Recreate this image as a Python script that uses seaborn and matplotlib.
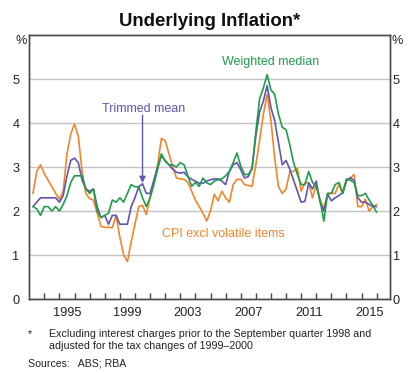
import numpy as np
import pandas as pd
import matplotlib
matplotlib.use("Agg")
import matplotlib.pyplot as plt
import seaborn as sns

# quarterly, year-ended %, Mar 1993 .. Dec 2015
quarters = pd.period_range("1993Q1", "2015Q4", freq="Q")

weighted_median = [
    2.1, 2.05, 1.9, 2.1, 2.1, 2.0, 2.1, 2.0, 2.15, 2.35,
    2.65, 2.8, 2.8, 2.8, 2.5, 2.4, 2.5, 2.0, 1.85, 1.9,
    1.95, 2.25, 2.2, 2.3, 2.2, 2.4, 2.6, 2.55, 2.55, 2.3,
    2.1, 2.3, 2.6, 2.95, 3.3, 3.13, 3.05, 3.05, 3.0, 3.1,
    3.05, 2.8, 2.56, 2.65, 2.56, 2.75, 2.64, 2.6, 2.68, 2.71,
    2.73, 2.8, 2.9, 3.1, 3.32, 3.02, 2.83, 2.83, 2.95, 3.8,
    4.55, 4.8, 5.1, 4.75, 4.65, 4.2, 3.9, 3.85, 3.5, 3.1,
    2.83, 2.6, 2.6, 2.9, 2.65, 2.55, 2.25, 1.77, 2.4, 2.4,
    2.6, 2.65, 2.4, 2.73, 2.7, 2.65, 2.35, 2.35, 2.4, 2.25,
    2.12, 1.97,
]

trimmed_mean = [
    2.1, 2.2, 2.3, 2.3, 2.3, 2.3, 2.3, 2.2, 2.35, 2.8,
    3.15, 3.2, 3.1, 2.7, 2.5, 2.45, 2.5, 2.1, 1.85, 1.9,
    1.7, 1.9, 1.9, 1.7, 1.7, 1.7, 2.1, 2.3, 2.55, 2.62,
    2.4, 2.4, 2.7, 3.0, 3.25, 3.15, 3.05, 2.95, 2.88, 2.86,
    2.88, 2.78, 2.72, 2.68, 2.63, 2.63, 2.68, 2.71, 2.73, 2.73,
    2.68, 2.6, 2.9, 3.05, 3.1, 2.94, 2.75, 2.78, 2.98, 3.7,
    4.25, 4.5, 4.85, 4.35, 4.05, 3.55, 3.05, 3.15, 2.95, 2.7,
    2.45, 2.2, 2.22, 2.64, 2.5, 2.68, 2.2, 2.0, 2.38, 2.23,
    2.3, 2.35, 2.42, 2.7, 2.75, 2.7, 2.3, 2.2, 2.2, 2.15,
    2.1, 2.1,
]

cpi_excl_volatile = [
    2.4, 2.9, 3.05, 2.85, 2.7, 2.55, 2.4, 2.27, 2.45, 3.3,
    3.75, 3.98, 3.7, 2.9, 2.4, 2.28, 2.25, 1.95, 1.65, 1.63,
    1.63, 1.62, 1.9, 1.4, 1.0, 0.85, 1.3, 1.7, 2.1, 2.13,
    1.92, 2.3, 2.65, 3.05, 3.65, 3.6, 3.3, 3.0, 2.75, 2.73,
    2.72, 2.65, 2.45, 2.25, 2.1, 1.95, 1.77, 2.0, 2.38, 2.23,
    2.45, 2.3, 2.2, 2.6, 2.72, 2.72, 2.6, 2.58, 2.56, 3.05,
    3.6, 4.2, 4.65, 4.05, 3.2, 2.55, 2.4, 2.5, 2.9, 2.9,
    2.97, 2.45, 2.64, 2.64, 2.3, 2.6, 2.25, 2.05, 2.4, 2.4,
    2.4, 2.6, 2.4, 2.68, 2.75, 2.83, 2.1, 2.1, 2.27, 2.0,
    2.1, 2.15,
]

year_labels = ["1995", "1999", "2003", "2007", "2011", "2015"]
y_ticks = [0, 1, 2, 3, 4, 5]

GREEN = "#1f9e4a"
PURPLE = "#6254b4"
ORANGE = "#f5842a"
TEXT = "#222222"

# decimal year at quarter end
t = quarters.year + quarters.quarter / 4.0
df = pd.DataFrame({
    "t": np.tile(t, 3),
    "value": weighted_median + trimmed_mean + cpi_excl_volatile,
    "series": ["Weighted median"] * len(t) + ["Trimmed mean"] * len(t)
              + ["CPI excl volatile items"] * len(t),
})

sns.set_style("white")
plt.rcParams["font.family"] = ["Liberation Sans", "DejaVu Sans"]

fig = plt.figure(figsize=(4.19, 3.73), dpi=100)
ax = fig.add_axes([29.2 / 419, 1 - 299 / 373, (390 - 29.2) / 419, (299 - 35) / 373])

sns.lineplot(data=df, x="t", y="value", hue="series",
             hue_order=["CPI excl volatile items", "Trimmed mean", "Weighted median"],
             palette=[ORANGE, PURPLE, GREEN], linewidth=1.2, legend=False, ax=ax)

ax.set_xlim(1993, 2016.88)
ax.set_ylim(0, 6)
ax.set_xlabel("")
ax.set_ylabel("")

# year boundary ticks, labels centred in the year
ax.set_xticks(np.arange(1994, 2017))
ax.set_xticklabels([])
ax.set_xticks([int(y) + 0.5 for y in year_labels], minor=True)
ax.set_xticklabels(year_labels, minor=True)
ax.tick_params(axis="x", which="major", direction="in", length=4, width=1,
               color="#444444", bottom=True, top=False)
ax.tick_params(axis="x", which="minor", length=0, pad=6, labelsize=9.2,
               labelcolor=TEXT)

ax.set_yticks(y_ticks)
ax.tick_params(axis="y", length=0, labelsize=9.2, labelcolor=TEXT, pad=7)

# right hand axis labels sit closer to the frame
ax2 = ax.twinx()
ax2.set_ylim(0, 6)
ax2.set_yticks(y_ticks)
ax2.tick_params(axis="y", length=0, labelsize=9.2, labelcolor=TEXT, pad=2)
ax2.grid(False)

ax.grid(axis="y", color="#c4c4c4", linewidth=1)
ax.grid(axis="x", visible=False)
for a in (ax, ax2):
    for s in a.spines.values():
        s.set_color("#4a4a4a")
        s.set_linewidth(1)

# % signs at top
fig.text(21 / 419, 1 - 41 / 373, "%", ha="center", va="center", fontsize=9.2, color=TEXT)
fig.text(397 / 419, 1 - 41 / 373, "%", ha="center", va="center", fontsize=9.2, color=TEXT)

# series labels
ax.text(2009.0, 5.39, "Weighted median", color=GREEN, fontsize=9, ha="center", va="center")
ax.text(2000.6, 4.32, "Trimmed mean", color=PURPLE, fontsize=9, ha="center", va="center")
ax.text(2005.85, 1.48, "CPI excl volatile items", color=ORANGE, fontsize=9, ha="center", va="center")
ax.annotate("", xy=(2000.5, 2.64), xytext=(2000.5, 4.18),
            arrowprops=dict(arrowstyle="-|>", color=PURPLE, lw=1, mutation_scale=9,
                            shrinkA=0, shrinkB=0))

fig.text(0.5, 1 - 21 / 373, "Underlying Inflation*", ha="center", va="center",
         fontsize=13.4, fontweight="bold", color="#111111")

fig.text(30 / 419, 1 - 334 / 373, "*", ha="center", va="center", fontsize=7.7, color=TEXT)
fig.text(49 / 419, 1 - 334 / 373,
         "Excluding interest charges prior to the September quarter 1998 and",
         ha="left", va="center", fontsize=7.7, color=TEXT)
fig.text(49 / 419, 1 - 346 / 373, "adjusted for the tax changes of 1999\u20132000",
         ha="left", va="center", fontsize=7.7, color=TEXT)
fig.text(28 / 419, 1 - 363 / 373, "Sources:   ABS; RBA",
         ha="left", va="center", fontsize=7.6, color=TEXT)

fig.savefig("out.png", dpi=100)
